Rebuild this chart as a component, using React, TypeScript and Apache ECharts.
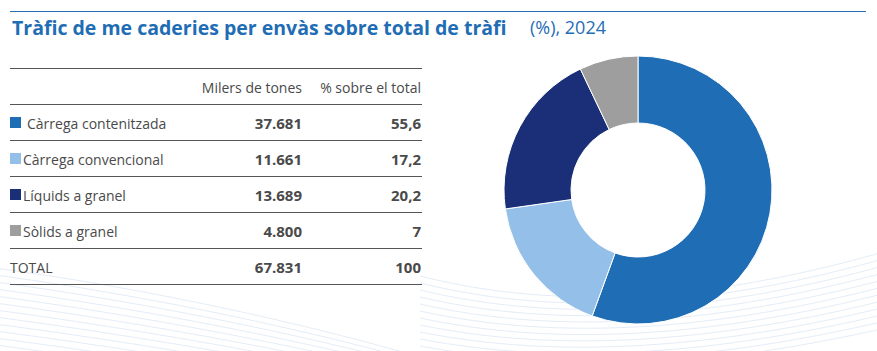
import React, { useEffect, useRef } from "react";
import * as echarts from "echarts";

const categories = ["Càrrega contenitzada", "Càrrega convencional", "Líquids a granel", "Sòlids a granel"];
const tonnes = [37681, 11661, 13689, 4800];
const tonnesLabels = ["37.681", "11.661", "13.689", "4.800"];
const percentLabels = ["55,6", "17,2", "20,2", "7"];
const totalLabels = ["TOTAL", "67.831", "100"];
const headers = ["Milers de tones", "% sobre el total"];
const colors = ["#1f6db5", "#94bfe8", "#1a2f78", "#9e9e9e"];

const FONT = "'Open Sans', 'Noto Sans', sans-serif";

export default function App() {
  const ref = useRef<HTMLDivElement>(null);
  useEffect(() => {
    if (!ref.current) return;
    const chart = echarts.init(ref.current, null, { renderer: "svg" });
    const g: any[] = [];
    // background waves
    for (let i = 0; i < 12; i++) {
      g.push({
        type: "bezierCurve",
        silent: true,
        z: 0,
        shape: { x1: -20, y1: 266 + i * 7, cpx1: 150, cpy1: 288 + i * 7, cpx2: 330, cpy2: 328 + i * 6, x2: 470, y2: 372 + i * 4 },
        style: { stroke: "#e4edf7", lineWidth: 1, fill: null },
      });
      g.push({
        type: "bezierCurve",
        silent: true,
        z: 0,
        shape: { x1: 420, y1: 276 + i * 7, cpx1: 560, cpy1: 312 + i * 6, cpx2: 720, cpy2: 300 + i * 6, x2: 890, y2: 250 + i * 7 },
        style: { stroke: "#e4edf7", lineWidth: 1, fill: null },
      });
    }
    // top rule
    g.push({ type: "line", shape: { x1: 10, y1: 11.5, x2: 866, y2: 11.5 }, style: { stroke: "#2a6db0", lineWidth: 1.2 } });
    g.push({
      type: "text", x: 12, y: 27,
      style: { text: "Tràfic de me caderies per envàs sobre total de tràfi", font: `bold 19.5px ${FONT}`, fill: "#1f6db5", verticalAlign: "middle" },
    });
    g.push({
      type: "text", x: 530, y: 27,
      style: { text: "(%), 2024", font: `18px ${FONT}`, fill: "#1f6db5", verticalAlign: "middle" },
    });
    // table lines
    const lineYs = [68, 104, 140, 176, 212, 248, 284];
    lineYs.forEach((y) => g.push({ type: "line", shape: { x1: 10, y1: y + 0.5, x2: 422, y2: y + 0.5 }, style: { stroke: "#555", lineWidth: 1 } }));
    // headers
    g.push({ type: "text", x: 302, y: 87, style: { text: headers[0], font: `14px ${FONT}`, fill: "#4a4a4a", align: "right", verticalAlign: "middle" } });
    g.push({ type: "text", x: 421, y: 87, style: { text: headers[1], font: `14px ${FONT}`, fill: "#4a4a4a", align: "right", verticalAlign: "middle" } });
    categories.forEach((c, i) => {
      const y = 123 + i * 36;
      g.push({ type: "rect", shape: { x: 10, y: y - 6, width: 11, height: 11 }, style: { fill: colors[i] } });
      g.push({ type: "text", x: i === 0 ? 27 : 23, y, style: { text: c, font: `14px ${FONT}`, fill: "#4a4a4a", verticalAlign: "middle" } });
      g.push({ type: "text", x: 302, y, style: { text: tonnesLabels[i], font: `bold 15px ${FONT}`, fill: "#4a4a4a", align: "right", verticalAlign: "middle" } });
      g.push({ type: "text", x: 421, y, style: { text: percentLabels[i], font: `bold 15px ${FONT}`, fill: "#4a4a4a", align: "right", verticalAlign: "middle" } });
    });
    const ty = 123 + 4 * 36;
    g.push({ type: "text", x: 10, y: ty, style: { text: totalLabels[0], font: `14px ${FONT}`, fill: "#4a4a4a", verticalAlign: "middle" } });
    g.push({ type: "text", x: 302, y: ty, style: { text: totalLabels[1], font: `bold 15px ${FONT}`, fill: "#4a4a4a", align: "right", verticalAlign: "middle" } });
    g.push({ type: "text", x: 421, y: ty, style: { text: totalLabels[2], font: `bold 15px ${FONT}`, fill: "#4a4a4a", align: "right", verticalAlign: "middle" } });

    chart.setOption({
      animation: false,
      backgroundColor: "#fff",
      graphic: g,
      series: [
        {
          type: "pie",
          center: [638, 190],
          radius: [67, 134],
          startAngle: 90,
          clockwise: true,
          label: { show: false },
          labelLine: { show: false },
          silent: true,
          z: 5,
          itemStyle: { borderColor: "#fff", borderWidth: 1 },
          data: categories.map((name, i) => ({ name, value: tonnes[i], itemStyle: { color: colors[i] } })),
        },
      ],
    });
    return () => chart.dispose();
  }, []);
  return <div ref={ref} style={{ position: "fixed", left: 0, top: 0, width: 877, height: 351 }} />;
}
